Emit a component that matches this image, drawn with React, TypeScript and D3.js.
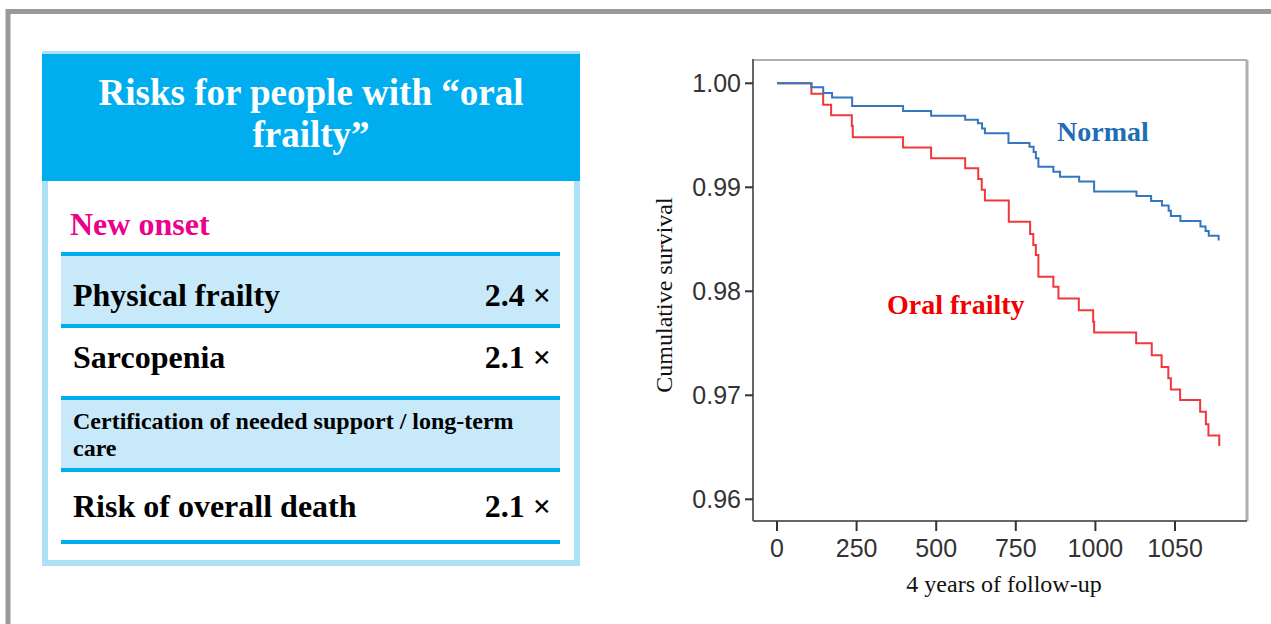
import * as d3 from "d3";

// survival curves (days, cumulative survival)
const normalDays = [0, 108, 145, 173, 236, 396, 484, 591, 631, 644, 653, 727, 793, 806, 813, 821, 868, 889, 949, 996, 1129, 1175, 1209, 1230, 1237, 1267, 1330, 1346, 1356, 1387];
const normalSurv = [1.0, 0.99962, 0.99907, 0.99863, 0.99782, 0.99734, 0.99688, 0.9965, 0.99615, 0.99565, 0.99519, 0.99426, 0.9939, 0.9934, 0.99279, 0.99198, 0.9915, 0.99102, 0.99056, 0.9896, 0.98916, 0.98868, 0.98825, 0.98775, 0.98724, 0.98676, 0.98623, 0.9858, 0.98534, 0.98488];

const oralDays = [0, 108, 145, 170, 235, 238, 396, 484, 591, 632, 643, 653, 728, 795, 805, 813, 821, 868, 884, 948, 993, 996, 1128, 1177, 1208, 1229, 1237, 1266, 1329, 1347, 1355, 1389];
const oralSurv = [1.0, 0.999, 0.99794, 0.99692, 0.99589, 0.99481, 0.99383, 0.9928, 0.99183, 0.9908, 0.98977, 0.98873, 0.98669, 0.98551, 0.98445, 0.98349, 0.9814, 0.98044, 0.97931, 0.97817, 0.97708, 0.97604, 0.975, 0.97385, 0.97272, 0.97163, 0.97056, 0.96955, 0.96842, 0.96721, 0.96613, 0.96513];

const yTicks = [0.96, 0.97, 0.98, 0.99, 1.0];
const xTicks = [0, 250, 500, 750, 1000, 1250];
const xTickLabels = ["0", "250", "500", "750", "1000", "1050"];

// left panel rows
const riskLabels = ["Physical frailty", "Sarcopenia", "Certification of needed support / long-term care", "Risk of overall death"];
const riskValues = ["2.4 ×", "2.1 ×", "", "2.1 ×"];

const SERIF = "'Liberation Serif', 'Times New Roman', serif";
const SANS = "'Liberation Sans', Arial, Helvetica, sans-serif";

function RiskPanel() {
  const left = 42, right = 580, top = 54, headBottom = 181, bottom = 566;
  const rowTop = 254, rowH = 72, rowL = 61, rowR = 560;
  const baseOff = [52, 42, 0, 47]; // text baseline offsets inside each row
  return (
    <g>
      {/* panel body */}
      <rect x={left + 3} y={top} width={right - left - 6} height={bottom - top - 3} fill="#fff" stroke="#aee1f8" strokeWidth={6} />
      <rect x={left} y={top} width={right - left} height={headBottom - top} fill="#00aeef" />
      <text x={(left + right) / 2} y={105} textAnchor="middle" fill="#fff" fontFamily={SERIF} fontWeight="bold" fontSize={37}>
        Risks for people with “oral
      </text>
      <text x={(left + right) / 2} y={147} textAnchor="middle" fill="#fff" fontFamily={SERIF} fontWeight="bold" fontSize={37}>
        frailty”
      </text>
      <text x={70} y={235} fill="#ec008c" fontFamily={SERIF} fontWeight="bold" fontSize={32}>
        New onset
      </text>
      {riskLabels.map((lab, i) => {
        const y0 = rowTop + i * rowH;
        const shaded = i % 2 === 0;
        return (
          <g key={lab}>
            {shaded && <rect x={rowL} y={y0} width={rowR - rowL} height={rowH} fill="#c7e9fa" />}
            {i === 2 ? (
              <>
                <text x={73} y={y0 + 31} fill="#000" fontFamily={SERIF} fontWeight="bold" fontSize={24}>
                  Certification of needed support / long-term
                </text>
                <text x={73} y={y0 + 58} fill="#000" fontFamily={SERIF} fontWeight="bold" fontSize={24}>
                  care
                </text>
              </>
            ) : (
              <text x={73} y={y0 + baseOff[i]} fill="#000" fontFamily={SERIF} fontWeight="bold" fontSize={32}>
                {lab}
              </text>
            )}
            {riskValues[i] && (
              <text x={551} y={y0 + baseOff[i]} textAnchor="end" fill="#000" fontFamily={SERIF} fontWeight="bold" fontSize={32}>
                {riskValues[i]}
              </text>
            )}
          </g>
        );
      })}
      {d3.range(riskLabels.length + 1).map((i) => (
        <line key={i} x1={rowL} x2={rowR} y1={rowTop + i * rowH} y2={rowTop + i * rowH} stroke="#00aeef" strokeWidth={4} />
      ))}
    </g>
  );
}

function SurvivalChart() {
  const x = d3.scaleLinear().domain([0, 1250]).range([777, 1175]);
  const y = d3.scaleLinear().domain([0.96, 1.0]).range([499.3, 83.3]);
  const frame = { l: 753, r: 1247, t: 60, b: 521 };

  const line = d3
    .line<[number, number]>()
    .x((d) => x(d[0]))
    .y((d) => y(d[1]))
    .curve(d3.curveStepAfter);

  const normal = normalDays.map((d, i) => [d, normalSurv[i]] as [number, number]);
  const oral = oralDays.map((d, i) => [d, oralSurv[i]] as [number, number]);

  return (
    <g>
      {/* plot frame */}
      <line x1={frame.l} x2={frame.r} y1={frame.t} y2={frame.t} stroke="#b0b0b0" strokeWidth={2} />
      <line x1={frame.r} x2={frame.r} y1={frame.t} y2={frame.b} stroke="#b0b0b0" strokeWidth={3} />
      <line x1={frame.l} x2={frame.l} y1={frame.t - 1} y2={frame.b} stroke="#666" strokeWidth={2} />
      <line x1={frame.l} x2={frame.r} y1={frame.b} y2={frame.b} stroke="#666" strokeWidth={2} />

      {yTicks.map((t) => (
        <g key={t}>
          <line x1={frame.l - 8} x2={frame.l} y1={y(t)} y2={y(t)} stroke="#333" strokeWidth={2} />
          <text x={frame.l - 12} y={y(t)} dy="0.36em" textAnchor="end" fill="#333" fontFamily={SANS} fontSize={25}>
            {t.toFixed(2)}
          </text>
        </g>
      ))}
      {xTicks.map((t, i) => (
        <g key={t}>
          <line x1={x(t)} x2={x(t)} y1={frame.b} y2={frame.b + 10} stroke="#333" strokeWidth={2} />
          <text x={x(t)} y={557} textAnchor="middle" fill="#333" fontFamily={SANS} fontSize={25}>
            {xTickLabels[i]}
          </text>
        </g>
      ))}

      <path d={line(oral) ?? ""} fill="none" stroke="#f0383c" strokeWidth={2} />
      <path d={line(normal) ?? ""} fill="none" stroke="#3476c0" strokeWidth={2} />

      <text x={1057} y={141} fill="#1f6db5" fontFamily={SERIF} fontWeight="bold" fontSize={28}>
        Normal
      </text>
      <text x={887} y={314} fill="#f00000" fontFamily={SERIF} fontWeight="bold" fontSize={28}>
        Oral frailty
      </text>

      <text transform="translate(672,295) rotate(-90)" textAnchor="middle" fill="#111" fontFamily={SERIF} fontSize={24}>
        Cumulative survival
      </text>
      <text x={1004} y={592} textAnchor="middle" fill="#111" fontFamily={SERIF} fontSize={24}>
        4 years of follow-up
      </text>
    </g>
  );
}

export default function App() {
  return (
    <svg width={1271} height={624} style={{ position: "absolute", left: 0, top: 0, background: "#fff" }}>
      {/* outer gray frame */}
      <line x1={8} x2={1271} y1={11.5} y2={11.5} stroke="#999" strokeWidth={5} />
      <line x1={8} x2={8} y1={9} y2={624} stroke="#999" strokeWidth={5} />
      <RiskPanel />
      <SurvivalChart />
    </svg>
  );
}
